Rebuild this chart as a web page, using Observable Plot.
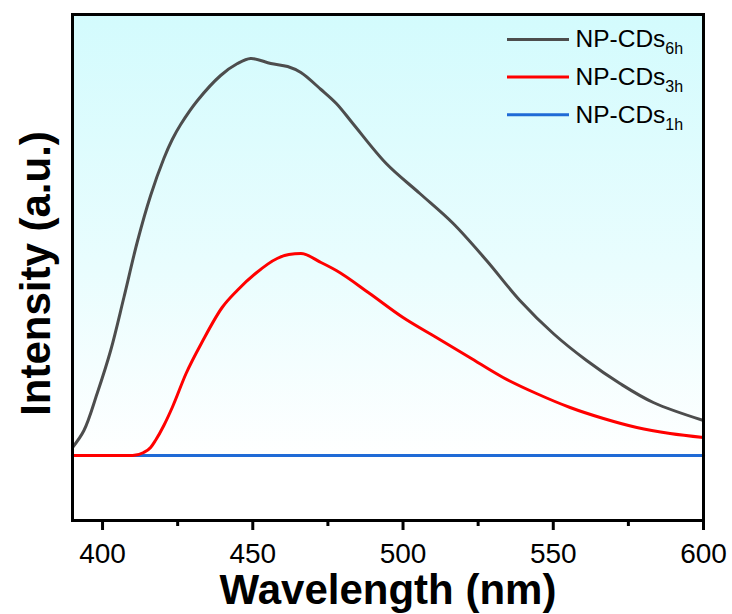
<!DOCTYPE html>
<html>
<head>
<meta charset="utf-8">
<script src="https://cdn.jsdelivr.net/npm/d3@7"></script>
<script src="https://cdn.jsdelivr.net/npm/@observablehq/plot@0.6"></script>
<style>
  html, body { margin: 0; padding: 0; background: #ffffff; }
  #chart { width: 732px; height: 614px; }
</style>
</head>
<body>
<div id="chart"></div>
<script>
// ---------- data ----------
const wavelength6h = [390, 393.8, 398.2, 402.7, 407.1, 411.6, 416, 420.4, 423.2, 426, 431.6, 439.3, 444.9, 449.3, 456, 461.6, 466, 472.7, 477.8, 483.3, 494.4, 505.6, 516.7, 527.8, 538.9, 550, 561.1, 572.2, 583.3, 600];
const intensity6h  = [8, 25, 62, 105, 158, 214, 260, 297, 316, 331, 355, 380, 392, 397, 392, 389, 383, 366, 352, 332, 292, 262, 232, 195, 155, 122, 95, 72, 53, 35];

const wavelength3h = [390, 400, 410, 413.7, 416, 417.6, 420.4, 423.2, 427.8, 433.4, 439.8, 444.8, 450.9, 458.1, 462, 466, 472.7, 477.8, 488.9, 500, 511.1, 522.2, 533.3, 544.4, 555.6, 566.7, 577.8, 588.9, 600];
const intensity3h  = [0, 0, 0, 3, 8, 15, 30, 48, 82, 115, 148, 165, 182, 197, 201, 202, 193, 185, 162, 138, 118, 98, 78, 62, 48, 37, 28, 22, 18];

const wavelength1h = [390, 450, 500, 550, 600];
const intensity1h  = [0, 0, 0, 0, 0];

const seriesNames = ["NP-CDs", "NP-CDs", "NP-CDs"];
const seriesSubs  = ["6h", "3h", "1h"];
const seriesColors = ["#4d4d4d", "#ff0000", "#1f6ad6"];

const majorTicks = [400, 450, 500, 550, 600];
const minorTicks = [425, 475, 525, 575];
const xTitle = "Wavelength (nm)";
const yTitle = "Intensity (a.u.)";

// ---------- layout ----------
const W = 732, H = 614;
const mL = 72, mR = 29, mT = 14, mB = 94;
const xDom = [390, 600];
const yDom = [-65, 441];
const pxPerNm = (W - mL - mR) / (xDom[1] - xDom[0]);
const pxPerUnit = (H - mT - mB) / (yDom[1] - yDom[0]);
const nmAt = px => xDom[0] + (px - mL) / pxPerNm;
const valAt = py => yDom[1] - (py - mT) / pxPerUnit;

const toRows = (wl, v, i) => wl.map((w, k) => ({wl: w, v: v[k], s: i}));
const rows6h = toRows(wavelength6h, intensity6h, 0);
const rows3h = toRows(wavelength3h, intensity3h, 1);
const rows1h = toRows(wavelength1h, intensity1h, 2);

const legendRows = seriesNames.map((n, i) => ({
  name: n,
  color: seriesColors[i],
  x1: nmAt(507), x2: nmAt(569), tx: nmAt(575),
  y: valAt(39 + i * 37.6)
}));

const gradient = () => {
  const d = d3.create("svg:defs");
  const g = d.append("linearGradient").attr("id", "bgGrad")
    .attr("x1", 0).attr("y1", 0).attr("x2", 0).attr("y2", 1);
  g.append("stop").attr("offset", "0%").attr("stop-color", "#d3fbfd");
  g.append("stop").attr("offset", "50%").attr("stop-color", "#e9fdfe");
  g.append("stop").attr("offset", "88%").attr("stop-color", "#ffffff");
  g.append("stop").attr("offset", "100%").attr("stop-color", "#ffffff");
  return d.node();
};

const lineOpts = (i, curve) => ({x: "wl", y: "v", stroke: seriesColors[i], strokeWidth: 3, curve});

const plot = Plot.plot({
  width: W, height: H,
  marginLeft: mL, marginRight: mR, marginTop: mT, marginBottom: mB,
  x: {domain: xDom},
  y: {domain: yDom, axis: null},
  color: {type: "identity"},
  style: {fontFamily: "'Liberation Sans', Arial, Helvetica, sans-serif", background: "#ffffff", color: "black", overflow: "visible"},
  marks: [
    gradient,
    Plot.frame({fill: "url(#bgGrad)", stroke: null}),
    Plot.line(rows1h, lineOpts(2, "linear")),
    Plot.line(rows3h, lineOpts(1, "monotone-x")),
    Plot.line(rows6h, lineOpts(0, "catmull-rom")),
    Plot.frame({stroke: "black", strokeWidth: 3}),
    Plot.axisX({ticks: majorTicks, tickSize: 10, tickPadding: 13, fontSize: 28, strokeWidth: 3, label: null, tickFormat: d => String(d), fill: "black", stroke: "black"}),
    Plot.axisX({ticks: minorTicks, tickSize: 6, strokeWidth: 3, text: null, label: null, stroke: "black"}),
    Plot.text([xTitle], {frameAnchor: "bottom", lineAnchor: "middle", textAnchor: "middle", dy: 70, fontSize: 42, fontWeight: "bold", fill: "black"}),
    Plot.text([yTitle], {frameAnchor: "left", lineAnchor: "middle", textAnchor: "middle", rotate: -90, dx: -35.5, dy: 6, fontSize: 42, fontWeight: "bold", fill: "black"}),
    Plot.ruleY(legendRows, {y: "y", x1: "x1", x2: "x2", stroke: "color", strokeWidth: 3}),
    Plot.text(legendRows, {x: "tx", y: "y", text: "name", textAnchor: "start", lineAnchor: "middle", fontSize: 24.5, fill: "black"})
  ]
});

// subscripts in legend labels
let k = 0;
d3.select(plot).selectAll("text").each(function() {
  if (this.textContent === "NP-CDs" && k < seriesSubs.length) {
    d3.select(this).append("tspan").attr("font-size", 16).attr("dy", 7).text(seriesSubs[k]);
    k++;
  }
});

document.getElementById("chart").appendChild(plot);
</script>
</body>
</html>
